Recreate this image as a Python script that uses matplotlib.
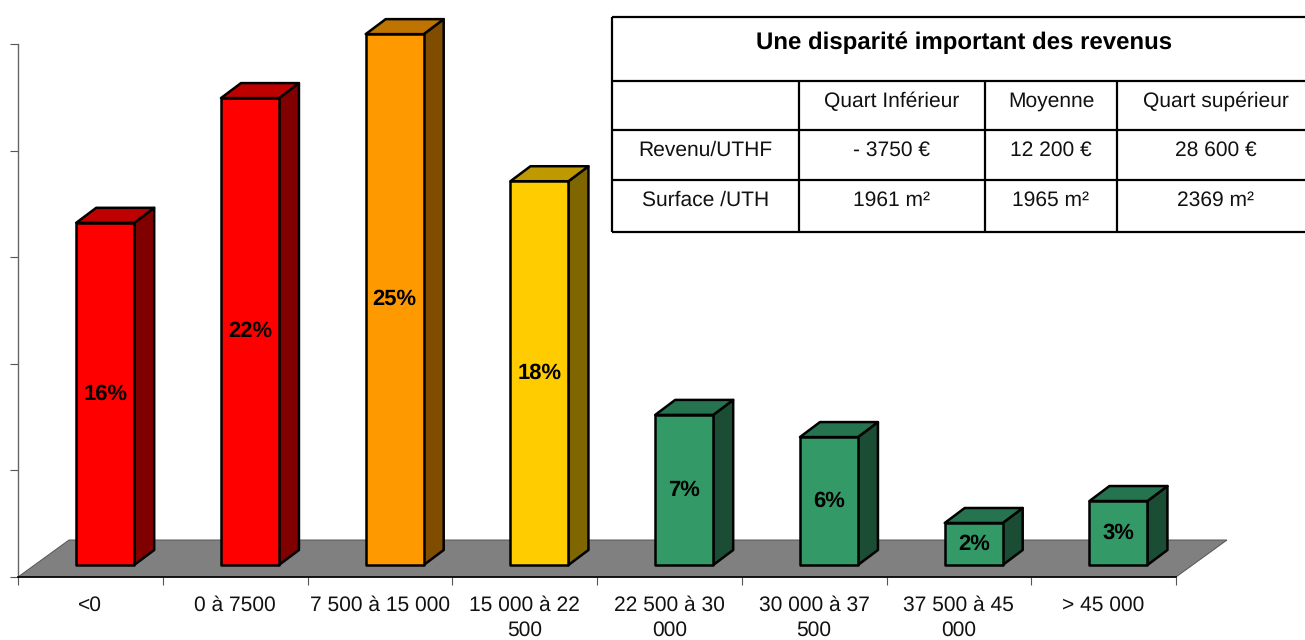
import matplotlib
matplotlib.use("Agg")
import matplotlib.pyplot as plt
from matplotlib.patches import Polygon

plt.rcParams['font.family'] = ['Liberation Sans', 'DejaVu Sans']
plt.rcParams['text.hinting'] = 'no_hinting'
plt.rcParams['text.hinting_factor'] = 1

categories = ['<0', '0 à 7500', '7 500 à 15 000', '15 000 à 22\n500', '22 500 à 30\n000',
              '30 000 à 37\n500', '37 500 à 45\n000', '> 45 000']
values = [16.05, 21.9, 24.9, 18.0, 7.04, 6.0, 1.97, 3.0]
front_colors = ['#FF0000', '#FF0000', '#FF9900', '#FFCC00', '#339966', '#339966', '#339966', '#339966']
top_colors = ['#BF0000', '#BF0000', '#BF7300', '#BF9900', '#267350', '#267350', '#267350', '#267350']
side_colors = ['#800000', '#800000', '#804D00', '#806600', '#1A4D33', '#1A4D33', '#1A4D33', '#1A4D33']
y_ticks = [0, 5, 10, 15, 20, 25]

table_title = 'Une disparité important des revenus'
table_rows = [['', 'Quart Inférieur', 'Moyenne', 'Quart supérieur'],
              ['Revenu/UTHF', '- 3750 €', '12 200 €', '28 600 €'],
              ['Surface /UTH', '1961 m²', '1965 m²', '2369 m²']]

W, H = 1305, 640
fig = plt.figure(figsize=(W / 100, H / 100), dpi=100)
ax = fig.add_axes([18 / W, (H - 577) / H, 1158 / W, 533 / H])
ax.set_xlim(0, 8)
ax.set_ylim(0, 25)

# pixel sizes turned into data units for the fake 3d
xu = 8 / 1158
yu = 25 / 533
floor_dx, floor_dy = 51 * xu, 37 * yu
depth_x, depth_y = 20 * xu, 15 * yu
bar_left = 58.2 * xu
bar_w = 58 * xu
base = 12 * yu

floor = Polygon([(0, 0), (8, 0), (8 + floor_dx, floor_dy), (floor_dx, floor_dy)],
                facecolor='#808080', edgecolor='#555555', lw=0.7, zorder=1, clip_on=False)
ax.add_patch(floor)

for i, v in enumerate(values):
    x0 = i + bar_left
    x1 = x0 + bar_w
    y1 = base + v
    z = 3 + i
    style = dict(edgecolor='black', lw=1.8, joinstyle='round', zorder=z, clip_on=False)
    ax.add_patch(Polygon([(x1, base), (x1 + depth_x, base + depth_y), (x1 + depth_x, y1 + depth_y), (x1, y1)],
                         facecolor=side_colors[i], **style))
    ax.add_patch(Polygon([(x0, y1), (x1, y1), (x1 + depth_x, y1 + depth_y), (x0 + depth_x, y1 + depth_y)],
                         facecolor=top_colors[i], **style))
    ax.add_patch(Polygon([(x0, base), (x1, base), (x1, y1), (x0, y1)],
                         facecolor=front_colors[i], **style))
    ax.text((x0 + x1) / 2, base + v / 2, '%d%%' % round(v), ha='center', va='center',
            fontsize=15.8, fontweight='bold', color='black', zorder=20)

for s in ['top', 'right']:
    ax.spines[s].set_visible(False)
ax.spines['left'].set_color('#666666')
ax.spines['left'].set_linewidth(1)
ax.spines['bottom'].set_color('black')
ax.spines['bottom'].set_linewidth(1.2)

ax.set_yticks(y_ticks)
ax.set_yticklabels([])
ax.tick_params(axis='y', length=5.8, width=0.8, color='#555555')
ax.set_xticks(range(9))
ax.set_xticklabels([])
ax.tick_params(axis='x', which='major', length=5.8, width=0.8, color='#555555')
ax.set_xticks([i + 0.5 for i in range(8)], minor=True)
ax.set_xticklabels(categories, minor=True, fontsize=15.2, color='#111111', linespacing=1.36)
ax.tick_params(axis='x', which='minor', length=0, pad=13.5)

# table in its own axes, measured in pixels
col_edges = [612, 799, 985, 1117, 1310]
row_edges = [17, 81, 130, 180, 232]
row_text_y = [101.5, 150.5, 200.5]

tab = fig.add_axes([0, 0, 1, 1], zorder=30)
tab.set_xlim(0, W)
tab.set_ylim(H, 0)
tab.axis('off')
tab.patch.set_alpha(0)
tab.fill_between([col_edges[0], col_edges[-1]], row_edges[0], row_edges[-1], color='white', zorder=1)
tab.hlines(row_edges, col_edges[0], col_edges[-1], color='black', lw=1.6, zorder=2)
tab.vlines(col_edges[0], row_edges[0], row_edges[-1], color='black', lw=1.6, zorder=2)
tab.vlines(col_edges[1:4], row_edges[1], row_edges[-1], color='black', lw=1.6, zorder=2)
tab.text(964.5, 43, table_title, ha='center', va='center', fontsize=17.2, fontweight='bold', zorder=3)
for r, row in enumerate(table_rows):
    for c, txt in enumerate(row):
        cx = (col_edges[c] + col_edges[c + 1]) / 2
        if c == 3:
            cx = 1216
        tab.text(cx, row_text_y[r], txt, ha='center', va='center', fontsize=15.2, color='#111111', zorder=3)

fig.savefig('out.png', dpi=100)
